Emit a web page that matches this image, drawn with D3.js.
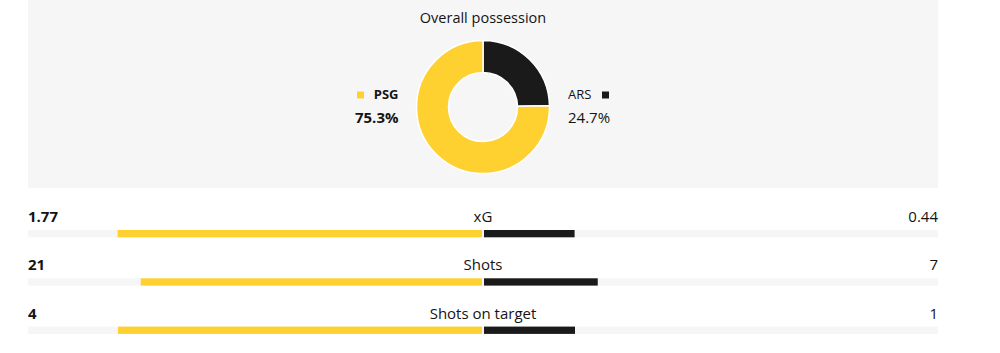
<!DOCTYPE html>
<html><head><meta charset="utf-8">
<script src="https://cdn.jsdelivr.net/npm/d3@7"></script>
<style>
html,body{margin:0;padding:0;background:#fff;}
svg{display:block;font-family:"Open Sans","Noto Sans",sans-serif;}
</style></head>
<body>
<svg id="chart" width="1000" height="353"></svg>
<script>
const teams = ["PSG", "ARS"];
const possession = [75.3, 24.7];
const teamColors = ["#fed130", "#1a1a1a"];
const statLabels = ["xG", "Shots", "Shots on target"];
const homeValues = [1.77, 21, 4];
const awayValues = [0.44, 7, 1];

const svg = d3.select("#chart");
const left = 28, right = 938, mid = (left + right) / 2;

// panel
svg.append("rect").attr("x", left).attr("y", 0).attr("width", right - left).attr("height", 188).attr("fill", "#f6f6f6");

svg.append("text").attr("x", mid).attr("y", 23).attr("text-anchor", "middle")
  .attr("font-size", 14.5).attr("fill", "#141414").text("Overall possession");

// donut: away slice starts at 12 o'clock
const pieData = [{team: teams[1], v: possession[1], c: teamColors[1]}, {team: teams[0], v: possession[0], c: teamColors[0]}];
const pie = d3.pie().value(d => d.v).sort(null);
const arc = d3.arc().innerRadius(34.5).outerRadius(66.5);
const g = svg.append("g").attr("transform", `translate(${mid},107)`);
g.selectAll("path").data(pie(pieData)).join("path")
  .attr("d", arc).attr("fill", d => d.data.c).attr("stroke", "#fff").attr("stroke-width", 1.5);

// legends
svg.append("rect").attr("x", 357).attr("y", 91.5).attr("width", 7).attr("height", 7).attr("fill", teamColors[0]);
svg.append("text").attr("x", 398.5).attr("y", 99).attr("text-anchor", "end").attr("font-size", 13).attr("font-weight", "bold").attr("fill", "#141414").text(teams[0]);
svg.append("text").attr("x", 398.5).attr("y", 123).attr("text-anchor", "end").attr("font-size", 15).attr("font-weight", "bold").attr("fill", "#141414").text(possession[0].toFixed(1) + "%");

svg.append("rect").attr("x", 602).attr("y", 91.5).attr("width", 7).attr("height", 7).attr("fill", teamColors[1]);
svg.append("text").attr("x", 568).attr("y", 99).attr("font-size", 13).attr("fill", "#141414").text(teams[1]);
svg.append("text").attr("x", 568).attr("y", 123).attr("font-size", 15).attr("fill", "#141414").text(possession[1].toFixed(1) + "%");

// stat rows
const share = d3.scaleLinear().domain([0, 1]).range([0, mid - left]);
const rowY = d3.scaleLinear().domain([0, 1]).range([230, 278.3]);
statLabels.forEach((lab, i) => {
  const y = rowY(i);
  const tot = homeValues[i] + awayValues[i];
  svg.append("rect").attr("x", left).attr("y", y).attr("width", right - left).attr("height", 7.3).attr("fill", "#f6f6f6");
  const hw = share(homeValues[i] / tot);
  const aw = share(awayValues[i] / tot);
  svg.append("rect").attr("x", mid - 1 - hw).attr("y", y).attr("width", hw).attr("height", 7.3).attr("fill", teamColors[0]);
  svg.append("rect").attr("x", mid + 1).attr("y", y).attr("width", aw).attr("height", 7.3).attr("fill", teamColors[1]);
  const ty = y - 8;
  svg.append("text").attr("x", left).attr("y", ty).attr("font-size", 15).attr("font-weight", "bold").attr("fill", "#141414").text(String(homeValues[i]));
  svg.append("text").attr("x", mid).attr("y", ty).attr("text-anchor", "middle").attr("font-size", 15).attr("fill", "#141414").text(lab);
  svg.append("text").attr("x", right).attr("y", ty).attr("text-anchor", "end").attr("font-size", 15).attr("fill", "#141414").text(String(awayValues[i]));
});
</script>
</body></html>
